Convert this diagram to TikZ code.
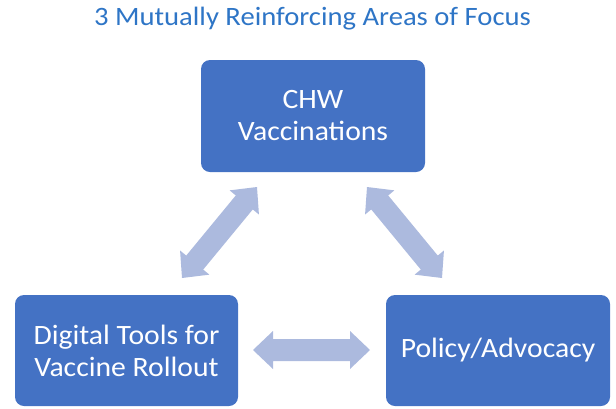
\documentclass[tikz,border=0pt]{standalone}
\usepackage{fontspec}
\setmainfont{Carlito}
\newfontfamily\titlefont[FakeStretch=1.08]{Carlito}
\newfontfamily\boxfont[FakeStretch=1.06]{Carlito}
\usetikzlibrary{calc}
\definecolor{boxblue}{RGB}{68,114,196}
\definecolor{titleblue}{RGB}{46,117,198}
\definecolor{arrowfill}{RGB}{172,186,222}
\tikzset{
  area/.style={rectangle, rounded corners=9pt, fill=boxblue, text=white,
    font=\boxfont\fontsize{28}{32}\selectfont, align=center, inner sep=0pt},
}
\newcommand\dblarrow[2]{%
  \path coordinate (b1) at ($(#1)!20pt!(#2)$) coordinate (b2) at ($(#2)!20pt!(#1)$);
  \fill[arrowfill] (#1) -- ($(b1)!19pt!90:(#2)$) -- ($(b1)!11pt!90:(#2)$)
    -- ($(b2)!11pt!-90:(#1)$) -- ($(b2)!19pt!-90:(#1)$) -- (#2)
    -- ($(b2)!19pt!90:(#1)$) -- ($(b2)!11pt!90:(#1)$)
    -- ($(b1)!11pt!-90:(#2)$) -- ($(b1)!19pt!-90:(#2)$) -- cycle;%
}
\begin{document}
\begin{tikzpicture}[x=1pt,y=-1pt]
\useasboundingbox (0,0) rectangle (616,408);
\node[text=titleblue, font=\titlefont\fontsize{26.5}{30}\selectfont] (title) at (312.5,19) {3 Mutually Reinforcing Areas of Focus};
\node[area, minimum width=224pt, minimum height=112pt] (chw) at (313,116) {CHW\\Vaccinations};
\node[area, minimum width=223pt, minimum height=111pt] (digital) at (126.5,350.5) {Digital Tools for\\Vaccine Rollout};
\node[area, minimum width=224pt, minimum height=111pt] (policy) at (498,350.5) {Policy/Advocacy};
\coordinate (d1) at (182,278);
\coordinate (c1) at (257,187);
\coordinate (c2) at (367,187);
\coordinate (p1) at (442,278);
\coordinate (d2) at (253,350);
\coordinate (p2) at (370,350);
\dblarrow{d1}{c1}
\dblarrow{c2}{p1}
\dblarrow{d2}{p2}
\end{tikzpicture}
\end{document}
